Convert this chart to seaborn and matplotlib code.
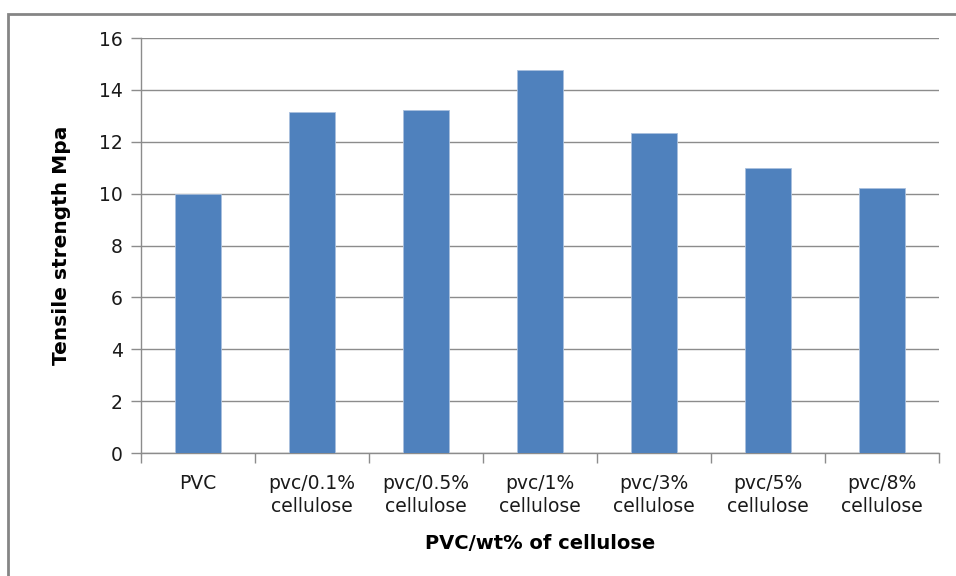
import numpy as np
import pandas as pd
import seaborn as sns
import matplotlib.pyplot as plt
from matplotlib.patches import Rectangle

# veriler
categories = ["PVC", "pvc/0.1%\ncellulose", "pvc/0.5%\ncellulose", "pvc/1%\ncellulose",
              "pvc/3%\ncellulose", "pvc/5%\ncellulose", "pvc/8%\ncellulose"]
tensile = [10.0, 13.16, 13.22, 14.76, 12.34, 10.98, 10.2]
yticks = [0, 2, 4, 6, 8, 10, 12, 14, 16]

df = pd.DataFrame({"sample": categories, "strength": tensile})

sns.set_theme(style="white")
plt.rcParams["font.family"] = ["DejaVu Sans"]

fig = plt.figure(figsize=(9.56, 5.76), dpi=100)
ax = fig.add_axes([0.1475, 0.2135, 0.8345, 0.7205])

sns.barplot(data=df, x="sample", y="strength", color="#4F81BD", saturation=1,
            width=0.4, edgecolor="#a9c0de", linewidth=0.6, ax=ax, zorder=3)

ax.set_ylim(0, 16)
ax.set_xlim(-0.5, len(categories) - 0.5)
ax.set_yticks(yticks)
ax.set_yticklabels([str(t) for t in yticks], fontsize=13.5, color="#1a1a1a")
ax.yaxis.grid(True, color="#8c8c8c", linewidth=1.0, zorder=0)
ax.set_axisbelow(True)

# x eksenindeki tick'ler kategori sinirlarinda
ax.set_xticks(np.arange(len(categories)))
ax.set_xticklabels(categories, fontsize=13.5, color="#1a1a1a", linespacing=1.3)
ax.set_xticks(np.arange(len(categories) + 1) - 0.5, minor=True)
ax.tick_params(axis="x", which="major", length=0, pad=15)
ax.tick_params(axis="x", which="minor", length=7, width=1, color="#8c8c8c", bottom=True)
ax.tick_params(axis="y", length=7, width=1, color="#8c8c8c", left=True, pad=6)

for s in ["top", "right"]:
    ax.spines[s].set_visible(False)
for s in ["left", "bottom"]:
    ax.spines[s].set_color("#8c8c8c")
    ax.spines[s].set_linewidth(1.0)

ax.set_xlabel("PVC/wt% of cellulose", fontsize=14, fontweight="bold", labelpad=13, color="black")
ax.set_ylabel("Tensile strength Mpa", fontsize=14.5, fontweight="bold", labelpad=20, color="black")

# dis cerceve
fig.patches.append(Rectangle((8 / 956, -0.1), 1.2, 1 - 14 / 576 + 0.1, transform=fig.transFigure,
                             fill=False, edgecolor="#858585", linewidth=2))

fig.savefig("out.png", dpi=100)
